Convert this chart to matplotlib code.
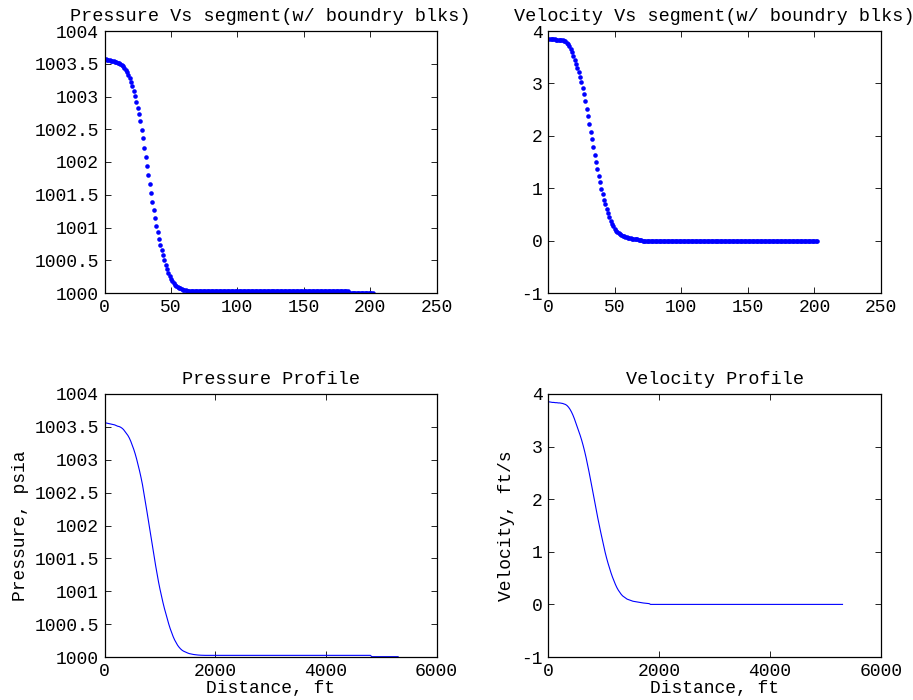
import numpy as np
import matplotlib
matplotlib.use("Agg")
import matplotlib.pyplot as plt
from matplotlib.ticker import FuncFormatter

plt.rcParams['font.family'] = ['Liberation Mono', 'DejaVu Sans Mono']
plt.rcParams['font.size'] = 13

# segment numbers 1..202 (incl. boundary blocks)
segment = np.arange(1, 203)
dx_ft = 26.4

# pressure, psia -- transition part (segments 1..70), then plateau and tail
p_front = [1003.57, 1003.56, 1003.555, 1003.55, 1003.545, 1003.54, 1003.535, 1003.53,
           1003.52, 1003.51, 1003.505, 1003.495, 1003.48, 1003.46, 1003.43, 1003.40,
           1003.37, 1003.33, 1003.28, 1003.22, 1003.16, 1003.09, 1003.01, 1002.92,
           1002.83, 1002.73, 1002.62, 1002.49, 1002.36, 1002.22, 1002.08, 1001.94,
           1001.80, 1001.66, 1001.52, 1001.39, 1001.26, 1001.14, 1001.03, 1000.93,
           1000.83, 1000.74, 1000.66, 1000.58, 1000.50, 1000.43, 1000.37, 1000.31,
           1000.26, 1000.22, 1000.18, 1000.15, 1000.125, 1000.105, 1000.09, 1000.08,
           1000.07, 1000.06, 1000.052, 1000.047, 1000.042, 1000.038, 1000.035, 1000.032,
           1000.03, 1000.028, 1000.027, 1000.026, 1000.025, 1000.025]
p_plateau = [1000.025] * 113
p_tail = [1000.005] * 19
pressure = np.array(p_front + p_plateau + p_tail)

# velocity, ft/s
v_front = [3.85, 3.85, 3.845, 3.84, 3.84, 3.835, 3.835, 3.83, 3.83, 3.825,
           3.82, 3.81, 3.80, 3.78, 3.75, 3.71, 3.66, 3.60, 3.53, 3.45,
           3.37, 3.29, 3.21, 3.12, 3.02, 2.91, 2.79, 2.66, 2.52, 2.38,
           2.23, 2.08, 1.93, 1.79, 1.64, 1.50, 1.37, 1.24, 1.11, 0.99,
           0.88, 0.78, 0.69, 0.60, 0.52, 0.45, 0.38, 0.32, 0.27, 0.23,
           0.19, 0.16, 0.14, 0.12, 0.10, 0.09, 0.08, 0.07, 0.06, 0.055,
           0.05, 0.045, 0.04, 0.035, 0.03, 0.027, 0.024, 0.02, 0.017, 0.015]
v_rest = [0.0] * 132
velocity = np.array(v_front + v_rest)

distance = (segment - 1) * dx_ft

fig = plt.figure(figsize=(9.13, 7), dpi=100)
W, H = 913.0, 700.0
boxes = {
    'tl': [104.5 / W, (H - 293) / H, 332 / W, 262 / H],
    'tr': [548 / W, (H - 293) / H, 333 / W, 262 / H],
    'bl': [104.5 / W, (H - 657) / H, 332 / W, 263 / H],
    'br': [548 / W, (H - 657) / H, 333 / W, 263 / H],
}

fmt = FuncFormatter(lambda v, pos: '%g' % v)


def style(ax):
    ax.tick_params(direction='in', top=True, right=True, length=4, width=0.6, pad=4)
    for s in ax.spines.values():
        s.set_linewidth(0.9)
    ax.xaxis.set_major_formatter(fmt)
    ax.yaxis.set_major_formatter(fmt)


title_fs = 13.3

ax1 = fig.add_axes(boxes['tl'])
ax1.plot(segment, pressure, 'o', color='#0000ff', ms=3.3, mew=0)
ax1.set_xlim(0, 250)
ax1.set_ylim(1000, 1004)
ax1.set_xticks(np.arange(0, 251, 50))
ax1.set_yticks(np.arange(1000, 1004.01, 0.5))
ax1.set_title('Pressure Vs segment(w/ boundry blks)', pad=7, fontsize=title_fs)
style(ax1)

ax2 = fig.add_axes(boxes['tr'])
ax2.plot(segment, velocity, 'o', color='#0000ff', ms=3.3, mew=0)
ax2.set_xlim(0, 250)
ax2.set_ylim(-1, 4)
ax2.set_xticks(np.arange(0, 251, 50))
ax2.set_yticks(np.arange(-1, 5, 1))
ax2.set_title('Velocity Vs segment(w/ boundry blks)', pad=7, fontsize=title_fs)
style(ax2)

ax3 = fig.add_axes(boxes['bl'])
ax3.plot(distance, pressure, '-', color='#0000ff', lw=0.8)
ax3.set_xlim(0, 6000)
ax3.set_ylim(1000, 1004)
ax3.set_xticks(np.arange(0, 6001, 2000))
ax3.set_yticks(np.arange(1000, 1004.01, 0.5))
ax3.set_title('Pressure Profile', pad=7, fontsize=title_fs)
ax3.set_xlabel('Distance, ft', labelpad=0)
ax3.set_ylabel('Pressure, psia', labelpad=4)
style(ax3)

ax4 = fig.add_axes(boxes['br'])
ax4.plot(distance, velocity, '-', color='#0000ff', lw=0.8)
ax4.set_xlim(0, 6000)
ax4.set_ylim(-1, 4)
ax4.set_xticks(np.arange(0, 6001, 2000))
ax4.set_yticks(np.arange(-1, 5, 1))
ax4.set_title('Velocity Profile', pad=7, fontsize=title_fs)
ax4.set_xlabel('Distance, ft', labelpad=0)
ax4.set_ylabel('Velocity, ft/s', labelpad=4)
style(ax4)

fig.savefig('out.png', dpi=100)
